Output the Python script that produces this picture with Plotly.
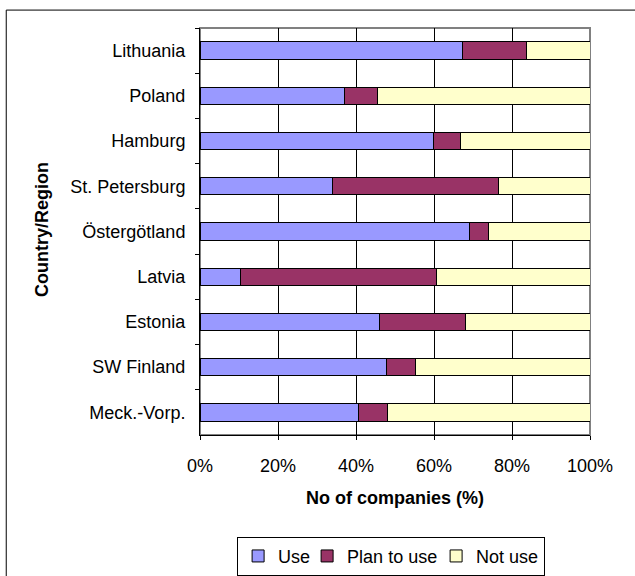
import plotly.graph_objects as go

# Share of surveyed companies per region (percent of companies)
regions = ["Lithuania", "Poland", "Hamburg", "St. Petersburg", "Östergötland",
           "Latvia", "Estonia", "SW Finland", "Meck.-Vorp."]
use = [67.3, 37.1, 59.8, 34.0, 69.0, 10.4, 45.9, 47.8, 40.6]
plan_to_use = [16.4, 8.4, 7.0, 42.6, 4.9, 50.2, 22.2, 7.5, 7.6]
not_use = [16.3, 54.5, 33.2, 23.4, 26.1, 39.4, 31.9, 44.7, 51.8]

series_names = ["Use", "Plan to use", "Not use"]
series_colors = ["#9999FF", "#993366", "#FFFFCC"]
# tighter legend entries (px reserved for each entry's text)
legend_widths = [24, 84, None]
x_ticks = [0, 20, 40, 60, 80, 100]

FONT = "Liberation Sans, Arial, sans-serif"

fig = go.Figure()
for name, vals, col, lw in zip(series_names, [use, plan_to_use, not_use],
                               series_colors, legend_widths):
    fig.add_trace(go.Bar(
        y=regions, x=vals, name=name, orientation="h",
        marker=dict(color=col, line=dict(color="#000000", width=1)),
        legendwidth=lw,
    ))

fig.update_layout(
    width=635, height=576,
    margin=dict(l=200, r=45, t=28, b=141, autoexpand=False),
    barmode="stack", bargap=0.617,
    paper_bgcolor="white", plot_bgcolor="white",
    font=dict(family=FONT, size=18, color="#000000"),
    showlegend=True,
    legend=dict(
        orientation="h", x=0.49, xanchor="center", y=-0.25, yanchor="top",
        bordercolor="#000000", borderwidth=1, font=dict(size=18),
        itemwidth=30, traceorder="normal", tracegroupgap=0,
    ),
    xaxis=dict(
        range=[0, 100], tickvals=x_ticks, ticktext=[f"{v}%" for v in x_ticks],
        showgrid=True, gridcolor="#000000", gridwidth=1,
        showline=True, linecolor="#000000", linewidth=1,
        ticks="outside", ticklen=4, tickcolor="#000000",
        ticklabelstandoff=10, zeroline=False, automargin=False,
        fixedrange=True,
    ),
    yaxis=dict(
        categoryorder="array", categoryarray=regions, autorange="reversed",
        showgrid=False, showline=True, linecolor="#000000", linewidth=1,
        ticks="outside", ticklen=4, tickcolor="#000000", tickson="boundaries",
        ticklabelstandoff=10, automargin=False, fixedrange=True,
    ),
    shapes=[
        # plot-area frame (top and right edges)
        dict(type="rect", xref="paper", yref="paper", x0=0, x1=1, y0=0, y1=1,
             line=dict(color="#808080", width=2), layer="below"),
        # outer chart frame
        dict(type="rect", xref="paper", yref="paper",
             x0=-0.4968, x1=1.13, y0=-0.36, y1=1.044,
             line=dict(color="#000000", width=1), fillcolor="rgba(0,0,0,0)",
             layer="below"),
    ],
    annotations=[
        dict(text="<b>No of companies (%)</b>", xref="paper", yref="paper",
             x=0.4994, y=-0.155, xanchor="center", yanchor="middle",
             showarrow=False, font=dict(size=18)),
        dict(text="<b>Country/Region</b>", xref="paper", yref="paper",
             x=-0.4046, y=0.504, xanchor="center", yanchor="middle",
             textangle=-90, showarrow=False, font=dict(size=18)),
    ],
)

fig.write_html("out.html")
